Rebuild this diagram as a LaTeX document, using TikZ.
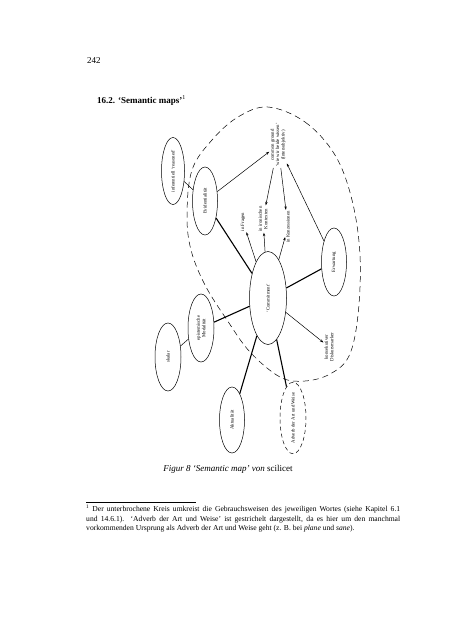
\documentclass[tikz,border=0pt]{standalone}
\usepackage{fontspec}
\setmainfont{Liberation Serif}
\usepackage{tikz}
\usetikzlibrary{shapes.geometric,arrows.meta}

\newcommand{\mapfont}{\fontsize{4.8}{5.4}\selectfont}

\tikzset{
  usage/.style={draw, ellipse, rotate=90, inner sep=0pt, line width=.5pt, font=\mapfont, align=center},
  label/.style={rotate=90, inner sep=1pt, font=\mapfont, align=center},
  link/.style={line width=1.1pt},
  thin/.style={line width=.5pt},
  pointer/.style={-{Stealth[length=3.5pt,width=2.4pt]}, line width=.5pt}
}

\begin{document}
\begin{tikzpicture}[x=1pt, y=-1pt]
\useasboundingbox (0,0) rectangle (452,640);

% page head
\node [anchor=base west, inner sep=0pt, font=\fontsize{9}{11}\selectfont] (page) at (87,63) {242};
\node [anchor=base west, inner sep=0pt, font=\fontsize{9}{11}\selectfont\bfseries] (head) at (97,103) {16.2. ‘Semantic maps’\textsuperscript{\mdseries 1}};

% the map
\node [usage, minimum width=67pt, minimum height=23pt] (inf) at (173,171) {inferentiell ‘reasoned’};
\node [usage, minimum width=68pt, minimum height=25pt] (evid) at (205,201) {Evidentialität};
\node [label] (common) at (278,145) {common ground\\‘wie wir beide wissen’\\(Intersubjektiv)};
\node [label] (frag) at (243,222) {in Fragen};
\node [label] (iron) at (263,219) {in ironischen\\Kontexten};
\node [label] (konz) at (288,227) {in Konzessionen};
\node [usage, minimum width=93pt, minimum height=37pt] (comm) at (268,298) {‘Commitment’};
\node [usage, minimum width=68pt, minimum height=25pt] (erw) at (334,262) {Erwartung};
\node [label] (kons) at (329,347) {konsekutiver\\Diskursmarker};
\node [usage, minimum width=68pt, minimum height=26pt] (epi) at (201,328) {epistemische\\Modalität};
\node [usage, minimum width=68pt, minimum height=26pt] (skal) at (168,357) {skalar};
\node [usage, minimum width=66pt, minimum height=25pt] (akt) at (232,420) {Aktualität};
\node [usage, dashed, dash pattern=on 4pt off 3pt, minimum width=67pt, minimum height=26pt] (adv) at (293,418) {Adverb der Art und Weise};

\draw [thin] (inf) -- (evid);
\draw [thin] (skal) -- (epi);
\draw [link] (evid) -- (comm);
\draw [link] (epi) -- (comm);
\draw [link] (akt) -- (comm);
\draw [link] (adv) -- (comm);
\draw [link] (comm) -- (erw);
\draw [pointer] (evid) -- (common);
\draw [pointer] (common) -- (iron);
\draw [pointer] (common) -- (konz);
\draw [pointer] (erw) -- (common);
\draw [pointer] (comm) -- (frag);
\draw [pointer] (comm) -- (iron);
\draw [pointer] (comm) -- (konz);
\draw [pointer] (comm) -- (kons);

% broken circle round the uses
\draw [thin, dash pattern=on 6pt off 4pt] plot [smooth cycle, tension=.6] coordinates {
  (268,107) (305,122) (335,155) (352,200) (360,255) (358,315) (349,356) (330,374)
  (305,381) (280,377) (250,352) (227,320) (205,285) (191,250) (187,215) (192,170)
  (212,140) (238,117)};

% caption and footnote
\node [anchor=base, inner sep=0pt, font=\fontsize{9}{11}\selectfont] (cap) at (228,471) {\textit{Figur 8 ‘Semantic map’ von} scilicet};
\draw [line width=.5pt] (86,502) coordinate (rule) -- (196,502);
\node [anchor=base west, inner sep=0pt, font=\fontsize{7.6}{9.5}\selectfont] (fn1) at (86,511.5) {\makebox[314pt][s]{\textsuperscript{1} Der unterbrochene Kreis umkreist die Gebrauchsweisen des jeweiligen Wortes (siehe Kapitel 6.1}};
\node [anchor=base west, inner sep=0pt, font=\fontsize{7.6}{9.5}\selectfont] (fn2) at (86,521) {\makebox[314pt][s]{und 14.6.1). ‘Adverb der Art und Weise’ ist gestrichelt dargestellt, da es hier um den manchmal}};
\node [anchor=base west, inner sep=0pt, font=\fontsize{7.6}{9.5}\selectfont] (fn3) at (86,530.5) {vorkommenden Ursprung als Adverb der Art und Weise geht (z. B. bei \textit{plane} und \textit{sane}).};
\end{tikzpicture}
\end{document}
